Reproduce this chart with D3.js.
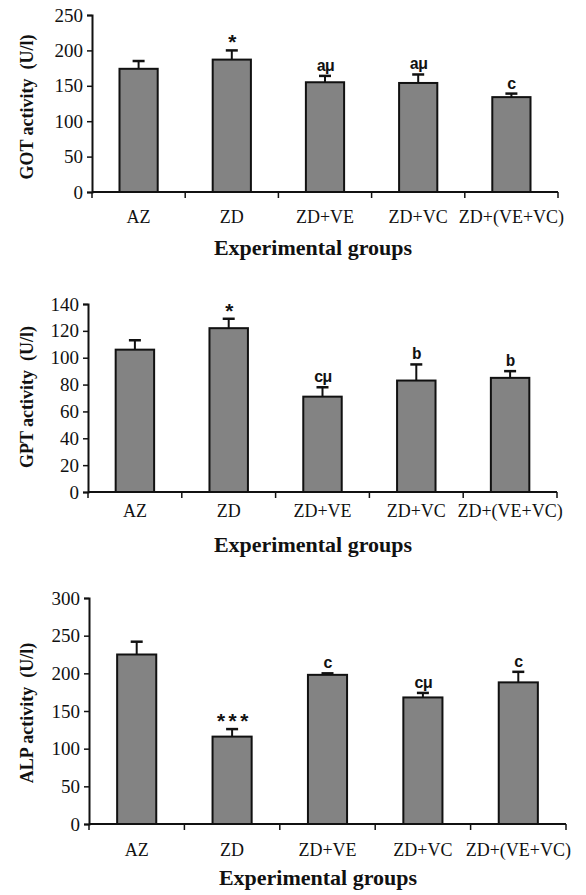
<!DOCTYPE html>
<html>
<head>
<meta charset="utf-8">
<script src="https://cdn.jsdelivr.net/npm/d3@7"></script>
<style>
  body { margin: 0; background: #fff; }
  svg { display: block; }
  text { font-family: "Liberation Serif", "Times New Roman", serif; fill: #111; }
</style>
</head>
<body>
<svg width="586" height="895"></svg>
<script>
var groups = ["AZ", "ZD", "ZD+VE", "ZD+VC", "ZD+(VE+VC)"];

var gotMean = [174, 187, 155, 154, 134];
var gotErr = [11, 13, 9, 12, 5];
var gotMarks = ["", "*", "aμ", "aμ", "c"];
var gotTicks = [0, 50, 100, 150, 200, 250];

var gptMean = [106, 122, 71, 83, 85];
var gptErr = [7, 7, 7, 12, 5];
var gptMarks = ["", "*", "cμ", "b", "b"];
var gptTicks = [0, 20, 40, 60, 80, 100, 120, 140];

var alpMean = [225, 116, 198, 168, 188];
var alpErr = [17, 10, 2, 6, 14];
var alpMarks = ["", "***", "c", "cμ", "c"];
var alpTicks = [0, 50, 100, 150, 200, 250, 300];

var svg = d3.select("svg");

// one panel per enzyme
function drawPanel(p) {
    var rows = groups.map(function (g, i) {
        return { name: g, mean: p.mean[i], err: p.err[i], mark: p.marks[i] };
    });

    var x = d3.scaleBand()
        .domain(groups)
        .range([p.left, p.right])
        .paddingInner(0.59)
        .paddingOuter(0.295);

    var y = d3.scaleLinear()
        .domain([0, d3.max(p.ticks)])
        .range([p.bottom, p.top]);

    var g = svg.append("g");
    var cx = function (d) { return x(d.name) + x.bandwidth() / 2; };

    // bars
    g.selectAll("rect.bar")
        .data(rows)
        .enter().append("rect")
        .attr("class", "bar")
        .attr("x", function (d) { return x(d.name); })
        .attr("y", function (d) { return y(d.mean); })
        .attr("width", x.bandwidth())
        .attr("height", function (d) { return y(0) - y(d.mean); })
        .attr("fill", "#838383")
        .attr("stroke", "#111")
        .attr("stroke-width", 2);

    // error bars (upper half only)
    var eb = g.selectAll("g.err")
        .data(rows)
        .enter().append("g")
        .attr("class", "err");
    eb.append("line")
        .attr("x1", cx).attr("x2", cx)
        .attr("y1", function (d) { return y(d.mean); })
        .attr("y2", function (d) { return y(d.mean + d.err); })
        .attr("stroke", "#111")
        .attr("stroke-width", 2);
    eb.append("line")
        .attr("x1", function (d) { return cx(d) - 6; })
        .attr("x2", function (d) { return cx(d) + 6; })
        .attr("y1", function (d) { return y(d.mean + d.err); })
        .attr("y2", function (d) { return y(d.mean + d.err); })
        .attr("stroke", "#111")
        .attr("stroke-width", 2.5);

    // significance marks
    g.selectAll("text.mark")
        .data(rows)
        .enter().append("text")
        .attr("class", "mark")
        .attr("x", cx)
        .attr("y", function (d) {
            var star = d.mark.indexOf("*") >= 0;
            return y(d.mean + d.err) - (star ? 0 : 5);
        })
        .attr("text-anchor", "middle")
        .style("font-family", "'Liberation Mono', 'DejaVu Sans Mono', monospace")
        .style("font-weight", "bold")
        .style("font-size", function (d) { return d.mark.indexOf("*") >= 0 ? "21px" : "16px"; })
        .style("letter-spacing", "-1px")
        .text(function (d) { return d.mark; });

    // y axis
    var yAxis = g.append("g")
        .attr("transform", "translate(" + p.left + ",0)")
        .call(d3.axisLeft(y).tickValues(p.ticks).tickSize(5).tickPadding(4).tickFormat(d3.format("d")));
    yAxis.select(".domain").attr("stroke", "#111").attr("stroke-width", 2);
    yAxis.selectAll(".tick line").attr("stroke", "#111").attr("stroke-width", 1.5);
    yAxis.selectAll(".tick text")
        .style("font-family", "'Liberation Serif', serif")
        .style("font-size", "19px")
        .attr("fill", "#111");

    // x axis: baseline with ticks at band boundaries
    var xAxis = g.append("g");
    xAxis.append("line")
        .attr("x1", p.left).attr("x2", p.right)
        .attr("y1", y(0)).attr("y2", y(0))
        .attr("stroke", "#111").attr("stroke-width", 2);
    var step = x.step();
    var bounds = d3.range(groups.length + 1).map(function (i) { return p.left + i * step; });
    xAxis.selectAll("line.xt")
        .data(bounds)
        .enter().append("line")
        .attr("class", "xt")
        .attr("x1", function (d) { return d; }).attr("x2", function (d) { return d; })
        .attr("y1", y(0)).attr("y2", y(0) + 6)
        .attr("stroke", "#111").attr("stroke-width", 1.5);
    xAxis.selectAll("text.cat")
        .data(groups)
        .enter().append("text")
        .attr("class", "cat")
        .attr("x", function (d) { return x(d) + x.bandwidth() / 2; })
        .attr("y", y(0) + p.catGap)
        .attr("text-anchor", "middle")
        .style("font-family", "'Liberation Serif', serif")
        .style("font-size", "18px")
        .text(function (d) { return d; });

    // titles
    g.append("text")
        .attr("x", p.titleX)
        .attr("y", p.titleY)
        .attr("text-anchor", "middle")
        .style("font-size", "22px")
        .style("font-weight", "bold")
        .text("Experimental groups");

    g.append("text")
        .attr("transform", "translate(" + p.labelX + "," + p.labelY + ") rotate(-90)")
        .attr("text-anchor", "middle")
        .attr("dy", "0.35em")
        .style("font-size", "18px")
        .style("font-weight", "bold")
        .style("white-space", "pre")
        .text(p.label);
}

drawPanel({ mean: gotMean, err: gotErr, marks: gotMarks, ticks: gotTicks,
    left: 92, right: 558, top: 15, bottom: 192, catGap: 31,
    titleX: 313, titleY: 255, labelX: 27, labelY: 107, label: "GOT activity  (U/l)" });

drawPanel({ mean: gptMean, err: gptErr, marks: gptMarks, ticks: gptTicks,
    left: 88, right: 557, top: 304, bottom: 492, catGap: 25,
    titleX: 313, titleY: 552, labelX: 27, labelY: 397, label: "GPT activity  (U/l)" });

drawPanel({ mean: alpMean, err: alpErr, marks: alpMarks, ticks: alpTicks,
    left: 89, right: 566, top: 598, bottom: 824, catGap: 32,
    titleX: 318, titleY: 885, labelX: 27, labelY: 713, label: "ALP activity  (U/l)" });
</script>
</body>
</html>
